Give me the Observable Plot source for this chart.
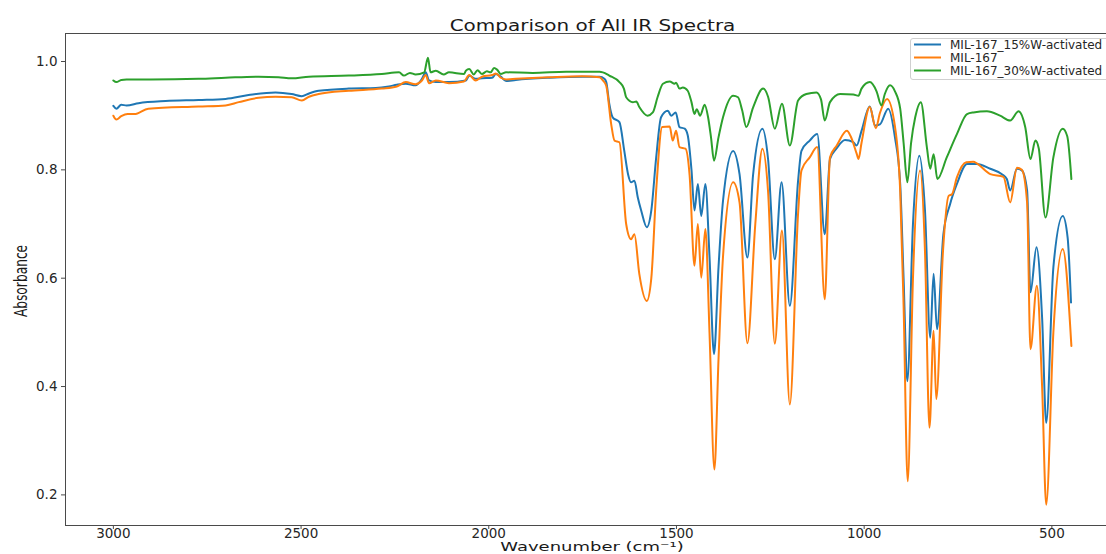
<!DOCTYPE html>
<html>
<head>
<meta charset="utf-8">
<script src="https://cdn.jsdelivr.net/npm/d3@7"></script>
<script src="https://cdn.jsdelivr.net/npm/@observablehq/plot@0.6"></script>
<style>
  html, body { margin: 0; padding: 0; background: #fff; overflow: hidden; }
  #wrap { position: relative; width: 1106px; height: 554px; overflow: hidden; font-family: "DejaVu Sans", sans-serif; }
  #chart { position: absolute; left: 0; top: 0; }
  #overlay { position: absolute; left: 0; top: 0; pointer-events: none; }
</style>
</head>
<body>
<div id="wrap">
  <div id="chart"></div>
  <svg id="overlay" width="1106" height="554" xmlns="http://www.w3.org/2000/svg"></svg>
</div>
<script>
// ---------- Data ----------
const seriesNames = ["MIL-167_15%W-activated", "MIL-167", "MIL-167_30%W-activated"];
const seriesColors = ["#1f77b4", "#ff7f0e", "#2ca02c"];

const xTicks = [3000, 2500, 2000, 1500, 1000, 500];
const yTicks = [0.2, 0.4, 0.6, 0.8, 1.0];

// MIL-167_15%W-activated (blue)
const wnBlue = [3000,2992,2979,2965,2933,2861,2773,2701,2640,2568,2525,2498,2479,2453,2373,2301,2266,2245,2221,2195,2178,2168,2159,2141,2106,2061,2052,2035,2018,1991,1981,1968,1954,1928,1839,1751,1705,1692,1687,1679,1670,1652,1639,1629,1621,1612,1603,1594,1579,1567,1554,1541,1523,1514,1502,1492,1478,1470,1460,1452,1443,1434,1423,1412,1400,1388,1376,1349,1332,1311,1296,1271,1256,1238,1220,1198,1176,1167,1145,1125,1105,1091,1073,1051,1029,1020,1007,985,971,958,936,918,904,895,885,870,853,838,824,815,806,789,771,753,726,700,664,633,620,611,593,580,566,557,541,526,515,496,471,458,449];
const absBlue = [0.918,0.913,0.920,0.919,0.923,0.927,0.929,0.931,0.938,0.943,0.940,0.936,0.941,0.946,0.950,0.951,0.954,0.957,0.959,0.956,0.968,0.980,0.965,0.962,0.962,0.965,0.974,0.968,0.969,0.970,0.977,0.972,0.964,0.966,0.970,0.972,0.972,0.968,0.962,0.922,0.897,0.888,0.835,0.792,0.777,0.780,0.749,0.725,0.694,0.725,0.823,0.897,0.909,0.900,0.906,0.879,0.876,0.864,0.800,0.725,0.774,0.715,0.774,0.640,0.460,0.620,0.743,0.835,0.792,0.638,0.790,0.876,0.820,0.635,0.777,0.549,0.780,0.835,0.854,0.866,0.681,0.820,0.840,0.855,0.851,0.845,0.872,0.917,0.882,0.884,0.913,0.860,0.774,0.600,0.410,0.700,0.826,0.725,0.490,0.608,0.506,0.681,0.737,0.774,0.811,0.811,0.802,0.792,0.783,0.762,0.802,0.799,0.762,0.574,0.657,0.527,0.333,0.620,0.715,0.675,0.555];

// MIL-167 (orange)
const wnOrange = [3000,2992,2979,2962,2944,2907,2773,2701,2666,2613,2568,2525,2498,2479,2453,2373,2285,2245,2221,2195,2178,2168,2159,2141,2106,2066,2052,2035,2018,1991,1981,1968,1954,1928,1839,1751,1705,1696,1687,1674,1665,1652,1634,1621,1612,1599,1579,1567,1554,1538,1518,1510,1501,1492,1476,1465,1452,1443,1434,1423,1412,1399,1388,1376,1349,1332,1311,1290,1271,1256,1238,1219,1198,1176,1167,1145,1125,1105,1091,1073,1046,1036,1020,1015,1007,985,969,958,939,918,904,895,884,870,851,838,826,815,808,790,775,766,753,728,709,700,664,629,611,593,580,566,557,540,526,515,496,471,448];
const absOrange = [0.900,0.893,0.899,0.903,0.903,0.913,0.917,0.919,0.925,0.933,0.935,0.934,0.928,0.935,0.940,0.946,0.950,0.954,0.962,0.958,0.965,0.975,0.960,0.965,0.960,0.963,0.975,0.965,0.972,0.975,0.978,0.970,0.967,0.968,0.971,0.973,0.971,0.965,0.955,0.885,0.854,0.851,0.700,0.672,0.681,0.608,0.558,0.600,0.762,0.879,0.880,0.854,0.872,0.842,0.839,0.790,0.623,0.700,0.601,0.691,0.500,0.247,0.450,0.640,0.777,0.740,0.480,0.700,0.839,0.760,0.479,0.688,0.367,0.720,0.799,0.823,0.842,0.561,0.823,0.845,0.872,0.862,0.830,0.820,0.850,0.916,0.877,0.905,0.931,0.880,0.760,0.550,0.225,0.600,0.799,0.650,0.324,0.503,0.377,0.650,0.752,0.755,0.786,0.814,0.815,0.812,0.792,0.787,0.740,0.804,0.800,0.740,0.469,0.586,0.400,0.182,0.500,0.654,0.475];

// MIL-167_30%W-activated (green)
const wnGreen = [3000,2992,2979,2965,2900,2773,2701,2613,2560,2525,2479,2373,2285,2239,2226,2210,2195,2172,2162,2155,2141,2120,2106,2066,2061,2052,2040,2030,2018,2005,1995,1986,1978,1968,1954,1883,1794,1751,1705,1696,1679,1652,1640,1634,1616,1607,1599,1577,1563,1550,1536,1518,1505,1501,1492,1483,1470,1460,1452,1446,1437,1425,1416,1408,1400,1388,1376,1349,1336,1325,1314,1296,1269,1256,1238,1219,1198,1176,1154,1127,1115,1105,1091,1064,1029,1015,1007,985,967,954,945,931,918,904,895,885,875,864,849,833,824,815,805,780,753,726,709,673,638,611,589,571,557,544,535,517,496,471,459,448];
const absGreen = [0.965,0.962,0.966,0.967,0.967,0.968,0.970,0.972,0.971,0.969,0.972,0.974,0.977,0.980,0.974,0.979,0.976,0.980,1.007,0.980,0.983,0.976,0.980,0.977,0.983,0.986,0.976,0.984,0.977,0.982,0.980,0.988,0.985,0.977,0.980,0.979,0.981,0.981,0.981,0.980,0.974,0.962,0.950,0.934,0.925,0.926,0.916,0.900,0.906,0.935,0.959,0.963,0.959,0.961,0.950,0.952,0.946,0.925,0.903,0.912,0.900,0.920,0.898,0.860,0.817,0.860,0.897,0.937,0.934,0.910,0.879,0.915,0.950,0.935,0.876,0.922,0.845,0.928,0.940,0.943,0.930,0.891,0.925,0.940,0.939,0.937,0.950,0.962,0.945,0.919,0.940,0.956,0.945,0.913,0.850,0.777,0.850,0.897,0.925,0.842,0.802,0.829,0.783,0.823,0.866,0.903,0.906,0.908,0.900,0.891,0.908,0.879,0.820,0.854,0.840,0.712,0.823,0.876,0.862,0.783];

// ---------- Build table ----------
const wnAll = [wnBlue, wnOrange, wnGreen];
const absAll = [absBlue, absOrange, absGreen];
const rows = [];
seriesNames.forEach((name, i) => {
  wnAll[i].forEach((w, j) => rows.push({series: name, wn: w, abs: absAll[i][j]}));
});

const W = 1106, H = 554;

const chart = Plot.plot({
  width: W,
  height: H,
  marginLeft: 65,
  marginRight: -12,
  marginTop: 33,
  marginBottom: 29,
  style: {fontFamily: "DejaVu Sans, sans-serif", fontSize: "13.5px", color: "#262626", background: "white"},
  x: {domain: [3127.5, 322.5]},
  y: {domain: [0.1435, 1.0517]},
  color: {domain: seriesNames, range: seriesColors},
  marks: [
    Plot.lineY(rows, {x: "wn", y: "abs", z: "series", stroke: "series", strokeWidth: 2, curve: "monotone-x"}),
    Plot.frame({stroke: "#4a4a4a", strokeWidth: 1}),
    Plot.axisX({ticks: xTicks, tickFormat: "d", tickSize: 4, tickPadding: -1.5, label: null, stroke: "#4a4a4a"}),
    Plot.axisY({ticks: yTicks, tickFormat: ".1f", tickSize: 4, tickPadding: 4, label: null, stroke: "#4a4a4a"})
  ]
});
document.getElementById("chart").appendChild(chart);

// ---------- Title, axis labels, legend (real text) ----------
const ov = d3.select("#overlay");
const ff = "DejaVu Sans, sans-serif";

ov.append("text")
  .attr("transform", "translate(592.5,31) scale(1,0.82)")
  .attr("text-anchor", "middle")
  .attr("font-family", ff).attr("font-size", 20).attr("fill", "#1a1a1a")
  .text("Comparison of All IR Spectra");

ov.append("text")
  .attr("transform", "translate(592,551.2) scale(1,0.65)")
  .attr("text-anchor", "middle")
  .attr("font-family", ff).attr("font-size", 18).attr("fill", "#1a1a1a")
  .text("Wavenumber (cm\u207B\u00B9)");

ov.append("text")
  .attr("transform", "translate(27,281) rotate(-90) scale(0.68,1)")
  .attr("text-anchor", "middle")
  .attr("font-family", ff).attr("font-size", 18).attr("fill", "#1a1a1a")
  .text("Absorbance");

// Legend
const lg = ov.append("g");
lg.append("rect")
  .attr("x", 910.5).attr("y", 38.5).attr("width", 230).attr("height", 41)
  .attr("rx", 2.5).attr("fill", "white").attr("fill-opacity", 0.8)
  .attr("stroke", "#d0d0d0").attr("stroke-width", 1);
const rowY = [44.5, 57.5, 70.5];
seriesNames.forEach((name, i) => {
  lg.append("line")
    .attr("x1", 914).attr("x2", 941).attr("y1", rowY[i]).attr("y2", rowY[i])
    .attr("stroke", seriesColors[i]).attr("stroke-width", 2);
  lg.append("text")
    .attr("x", 950).attr("y", rowY[i] + 4.3)
    .attr("font-family", ff).attr("font-size", 12).attr("fill", "#262626")
    .text(name);
});
</script>
</body>
</html>
